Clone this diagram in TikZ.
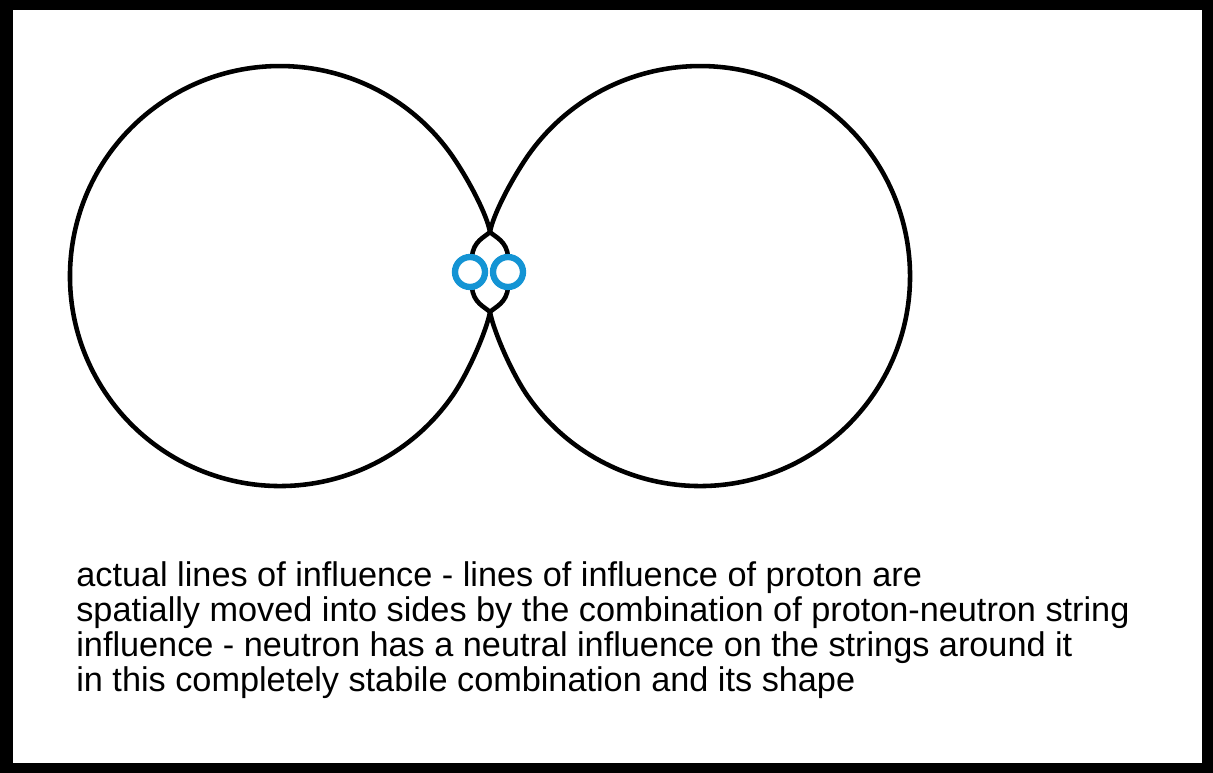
\documentclass[tikz,border=0pt]{standalone}
\usepackage{fontspec}
\setmainfont{Liberation Sans}
\definecolor{ringblue}{RGB}{20,148,212}

\begin{document}
\begin{tikzpicture}[
    x=0.02cm, y=-0.02cm,
    field/.style={draw=black, line width=2.6pt},
    nucleon/.style={circle, draw=ringblue, line width=3.6pt, fill=white, minimum size=0.6cm, inner sep=0pt},
    caption/.style={anchor=north west, align=left, inner sep=0pt, font=\fontsize{19.5}{19.9}\selectfont}
]

% Frame
\fill[black] (0,0) rectangle (1213,773);
\fill[white] (13,10) rectangle (1202,763);

% Crossing points of the lines of influence
\coordinate (top) at (490,232);
\coordinate (bottom) at (490,312);

% Left line of influence
\draw[field] (508,257) .. controls (507,241) and (495,237) .. (top)
    .. controls (487,215) and (469.2,180.6) .. (452,155.6)
    arc[start angle=-35, end angle=-325, radius=210]
    .. controls (469.2,371.8) and (487,329) .. (bottom)
    .. controls (495,307) and (507,303) .. (508,287);

% Right line of influence
\draw[field] (472,257) .. controls (473,241) and (485,237) .. (top)
    .. controls (493,215) and (510.8,180.6) .. (528,155.6)
    arc[start angle=215, end angle=505, radius=210]
    .. controls (510.8,371.8) and (493,329) .. (bottom)
    .. controls (485,307) and (473,303) .. (472,287);

% Proton and neutron
\node[nucleon] (proton) at (470,272) {};
\node[nucleon] (neutron) at (508,272) {};

% Caption
\node[caption] (text) at (76,561) {actual lines of influence - lines of influence of proton are\\
spatially moved into sides by the combination of proton-neutron string\\
influence - neutron has a neutral influence on the strings around it\\
in this completely stabile combination and its shape};

\end{tikzpicture}
\end{document}
